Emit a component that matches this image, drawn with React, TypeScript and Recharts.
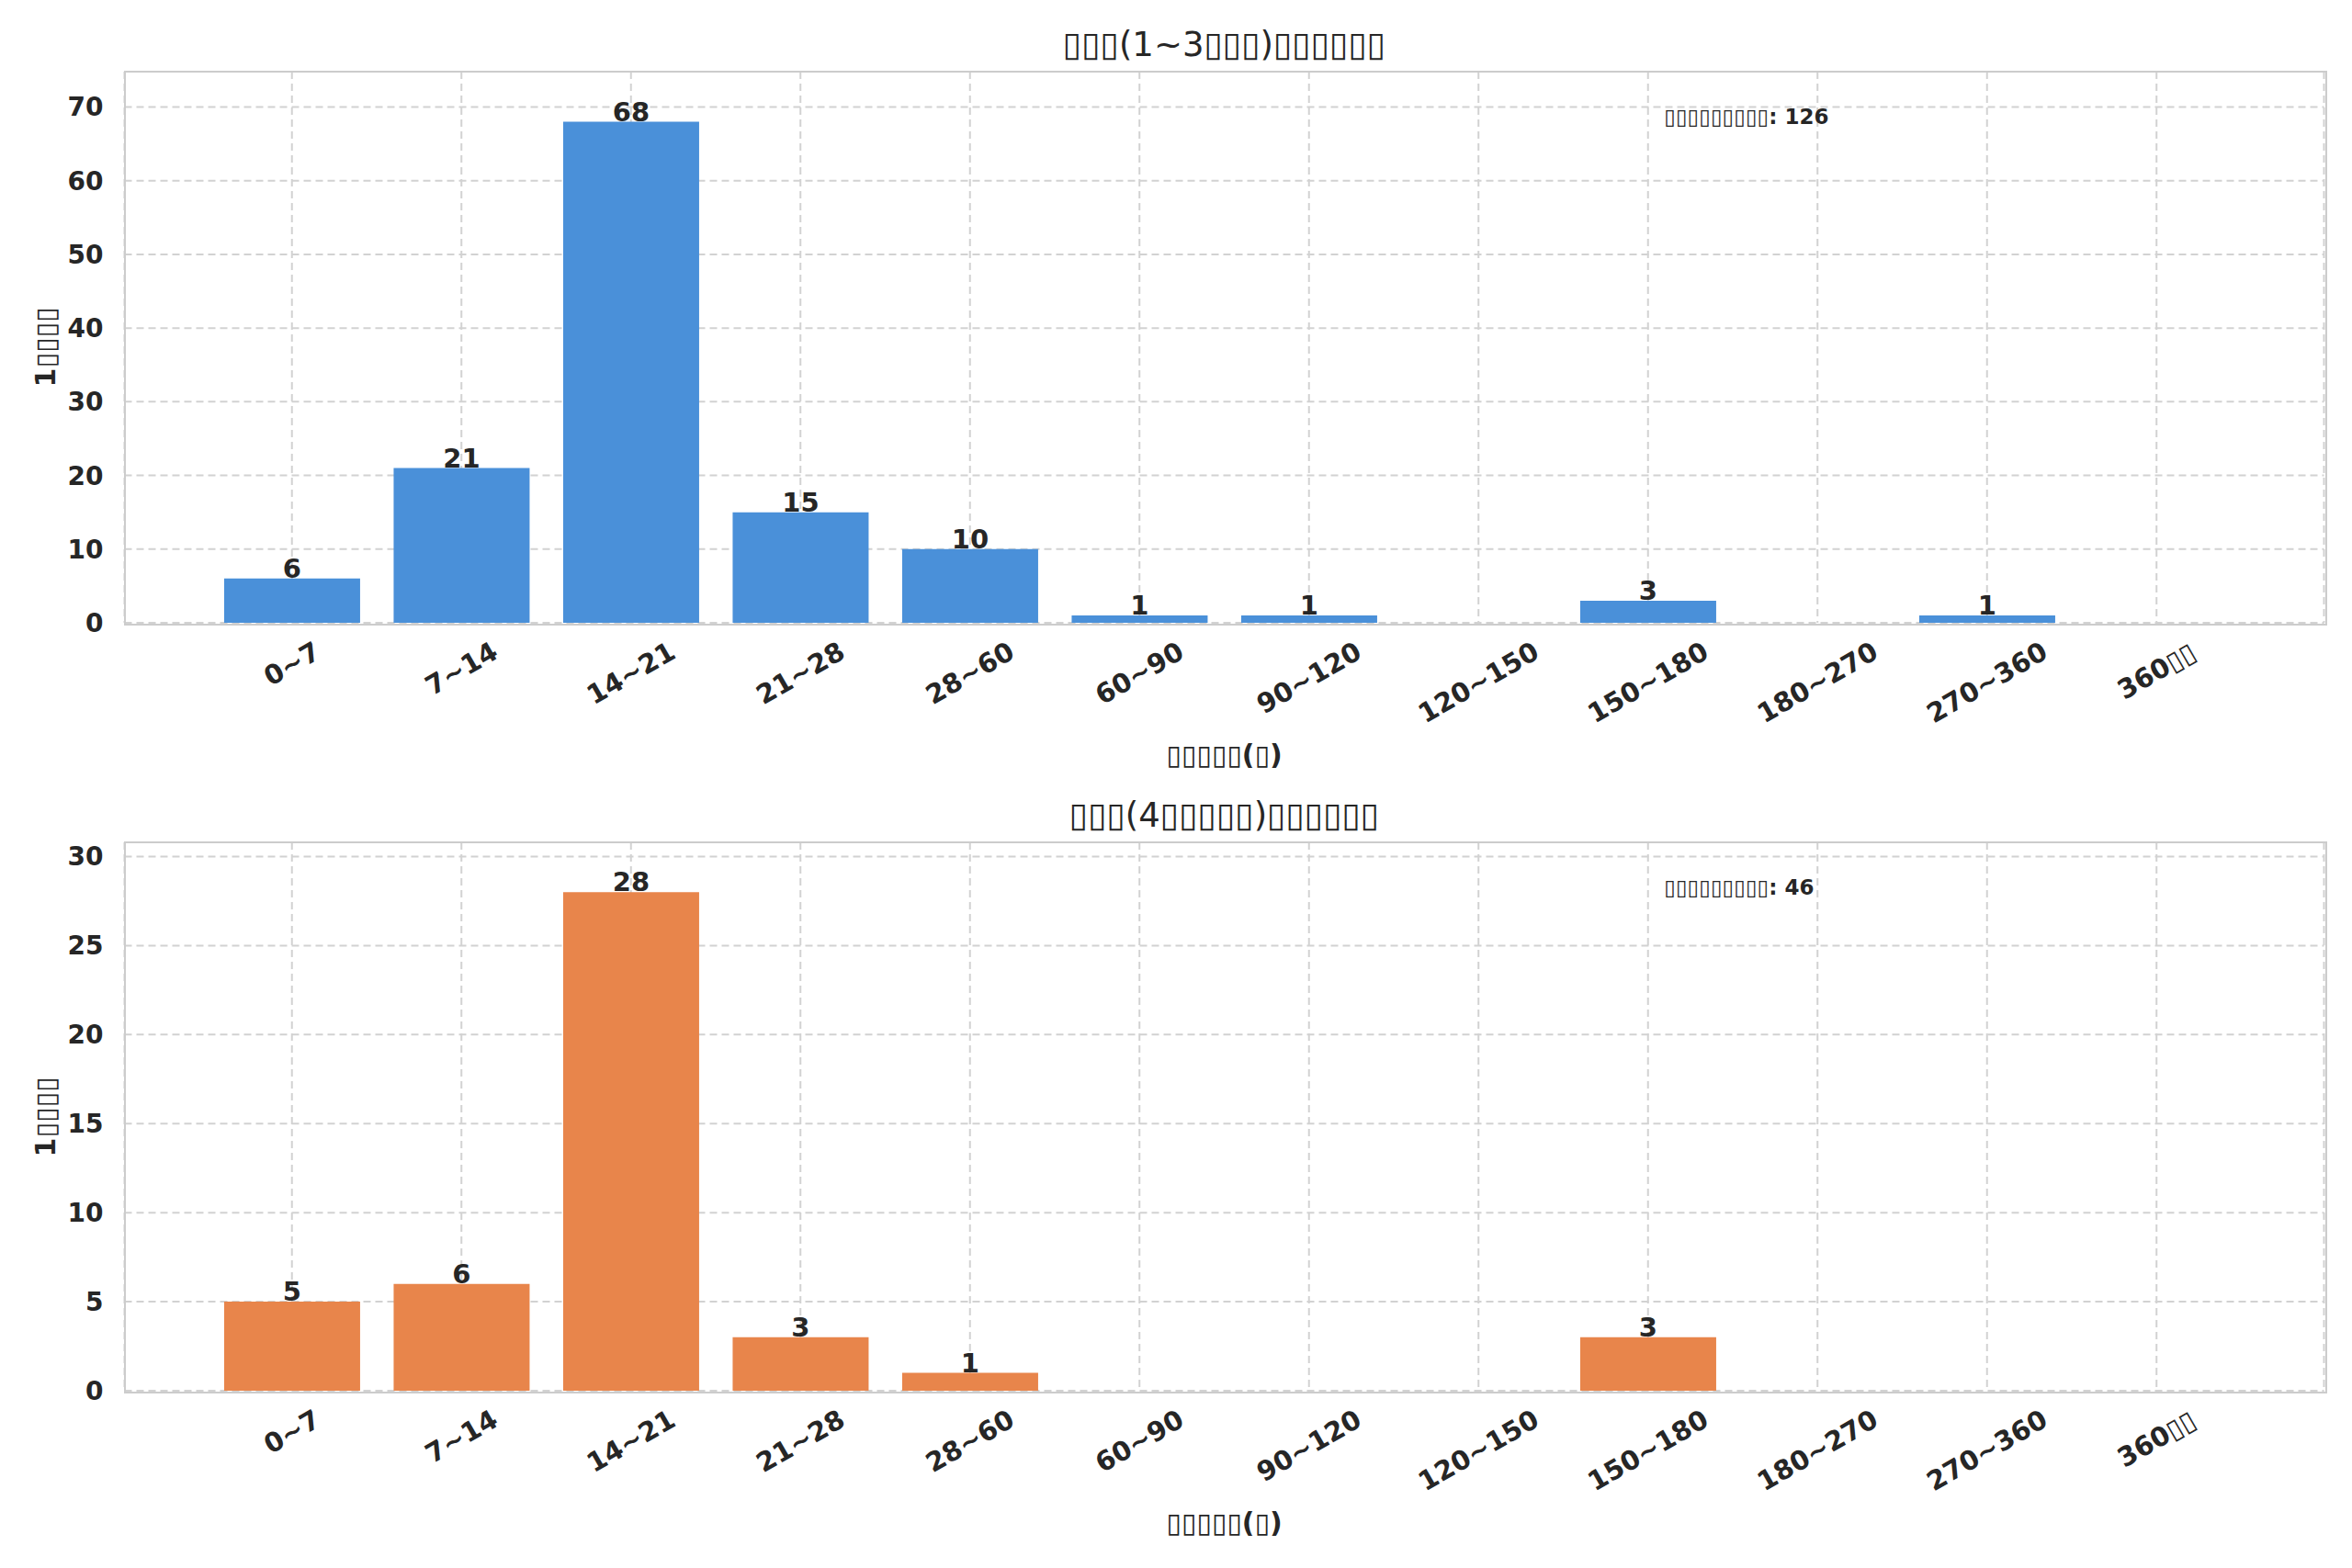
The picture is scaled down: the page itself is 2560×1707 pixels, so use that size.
import { BarChart, Bar, XAxis, YAxis, CartesianGrid, LabelList } from 'recharts';

// 区間ラベル（元画像は日本語が豆腐表示なので ▯ で再現）
const CATEGORIES = [
  '0~7', '7~14', '14~21', '21~28', '28~60', '60~90',
  '90~120', '120~150', '150~180', '180~270', '270~360', '360▯▯',
];
const SHORT_TERM_COUNTS = [6, 21, 68, 15, 10, 1, 1, 0, 3, 0, 1, 0];
const LONG_TERM_COUNTS = [5, 6, 28, 3, 1, 0, 0, 0, 3, 0, 0, 0];
const SHORT_TERM_TICKS = [0, 10, 20, 30, 40, 50, 60, 70];
const LONG_TERM_TICKS = [0, 5, 10, 15, 20, 25, 30];

const SHORT_TERM_TITLE = '▯▯▯(1~3▯▯▯)▯▯▯▯▯▯';
const LONG_TERM_TITLE = '▯▯▯(4▯▯▯▯▯)▯▯▯▯▯▯';
const X_LABEL = '▯▯▯▯▯(▯)';
const Y_LABEL = '1▯▯▯▯';
const TOTAL_LABEL = '▯▯▯▯▯▯▯▯▯';

const TEXT = '#262626';
const GRID = '#d2d2d2';
const FONT = '"DejaVu Sans", sans-serif';

const W = 2560;
const PLOT_LEFT = 135.5;
const PLOT_RIGHT = 2529.5;

// 回転ラベルの幅をざっくり見積もる（DejaVu Sans Bold の字幅）
function estimateWidth(label: string, size: number): number {
  let w = 0;
  for (const ch of label) {
    if (ch === '~') w += 0.838;
    else if (ch === '▯') w += 0.6;
    else w += 0.696;
  }
  return w * size;
}

function RotatedTick({ x, y, payload }: any) {
  const label = String(payload.value);
  const size = 29;
  const w = estimateWidth(label, size);
  const cy = y + 16 + (w * 0.5 + size * 0.866) / 2;
  return (
    <text
      x={x} y={cy}
      transform={`rotate(-30, ${x}, ${cy})`}
      textAnchor="middle" dominantBaseline="central"
      fontFamily={FONT} fontSize={size} fontWeight="bold" fill={TEXT}
    >
      {label}
    </text>
  );
}

function ValueLabel({ x, y, width, value }: any) {
  if (!value) return null;
  return (
    <text
      x={x + width / 2} y={y - 1}
      textAnchor="middle"
      fontFamily={FONT} fontSize={29} fontWeight="bold" fill={TEXT}
    >
      {value}
    </text>
  );
}

interface PanelProps {
  values: number[];
  ticks: number[];
  color: string;
  title: string;
  top: number;       // パネル上端（ページ座標）
  height: number;
  plotTop: number;   // 描画領域の上端（ページ座標）
  plotBottom: number;
}

function Panel({ values, ticks, color, title, top, height, plotTop, plotBottom }: PanelProps) {
  const data = CATEGORIES.map((name, i) => ({ name, count: values[i] }));
  const maxVal = Math.max(...values);
  const total = values.reduce((a, b) => a + b, 0);
  const plotH = plotBottom - plotTop;
  const plotW = PLOT_RIGHT - PLOT_LEFT;
  const xAxisH = 120;
  const yAxisW = 100;
  const center = (PLOT_LEFT + PLOT_RIGHT) / 2;

  return (
    <>
      <div style={{ position: 'absolute', left: 0, top }}>
        <BarChart
          width={W}
          height={height}
          data={data}
          barCategoryGap="10%"
          margin={{
            top: plotTop - top,
            left: PLOT_LEFT - yAxisW,
            right: W - PLOT_RIGHT,
            bottom: height - (plotBottom - top) - xAxisH,
          }}
        >
          <CartesianGrid stroke={GRID} strokeWidth={2} strokeDasharray="8 5" />
          <XAxis
            dataKey="name"
            interval={0}
            height={xAxisH}
            padding={{ left: 90, right: 90 }}
            tick={<RotatedTick />}
            tickLine={false}
            axisLine={false}
            tickSize={0}
            tickMargin={0}
          />
          <YAxis
            type="number"
            domain={[0, maxVal * 1.1]}
            ticks={ticks}
            width={yAxisW}
            tickLine={false}
            axisLine={false}
            tickSize={0}
            tickMargin={23}
            tick={{ fontFamily: FONT, fontSize: 28, fontWeight: 'bold', fill: TEXT }}
          />
          <Bar dataKey="count" fill={color} isAnimationActive={false}>
            <LabelList dataKey="count" content={<ValueLabel />} />
          </Bar>
        </BarChart>
      </div>

      {/* 枠線 */}
      <div style={{
        position: 'absolute', left: PLOT_LEFT - 1, top: plotTop - 1,
        width: plotW, height: plotH, border: '2px solid #cccccc',
        pointerEvents: 'none',
      }} />

      {/* タイトル */}
      <div style={{
        position: 'absolute', left: center, top: plotTop - 30,
        transform: 'translate(-50%, -50%)', whiteSpace: 'nowrap',
        fontFamily: FONT, fontSize: 37, color: TEXT, lineHeight: 1,
      }}>{title}</div>

      {/* 合計 */}
      <div style={{
        position: 'absolute', left: PLOT_LEFT + plotW * 0.7, top: plotTop + 0.05 * plotH + 6,
        whiteSpace: 'nowrap', fontFamily: FONT, fontSize: 23, fontWeight: 'bold',
        color: TEXT, lineHeight: 1.2,
      }}>{`${TOTAL_LABEL}: ${total}`}</div>

      {/* x軸ラベル */}
      <div style={{
        position: 'absolute', left: center, top: plotBottom + 144,
        transform: 'translate(-50%, -50%)', whiteSpace: 'nowrap',
        fontFamily: FONT, fontSize: 30, fontWeight: 'bold', color: TEXT, lineHeight: 1,
      }}>{X_LABEL}</div>

      {/* y軸ラベル */}
      <div style={{
        position: 'absolute', left: 50, top: plotTop + plotH / 2,
        transform: 'translate(-50%, -50%) rotate(-90deg)', whiteSpace: 'nowrap',
        fontFamily: FONT, fontSize: 30, fontWeight: 'bold', color: TEXT, lineHeight: 1,
      }}>{Y_LABEL}</div>
    </>
  );
}

export default function App() {
  return (
    <div style={{ position: 'relative', width: W, height: 1707, background: '#fff', overflow: 'hidden' }}>
      <style>{'body{margin:0}'}</style>
      <Panel
        values={SHORT_TERM_COUNTS}
        ticks={SHORT_TERM_TICKS}
        color="#4a90d9"
        title={SHORT_TERM_TITLE}
        top={0}
        height={853}
        plotTop={78}
        plotBottom={678}
      />
      <Panel
        values={LONG_TERM_COUNTS}
        ticks={LONG_TERM_TICKS}
        color="#e8854b"
        title={LONG_TERM_TITLE}
        top={853}
        height={854}
        plotTop={917}
        plotBottom={1514}
      />
    </div>
  );
}
